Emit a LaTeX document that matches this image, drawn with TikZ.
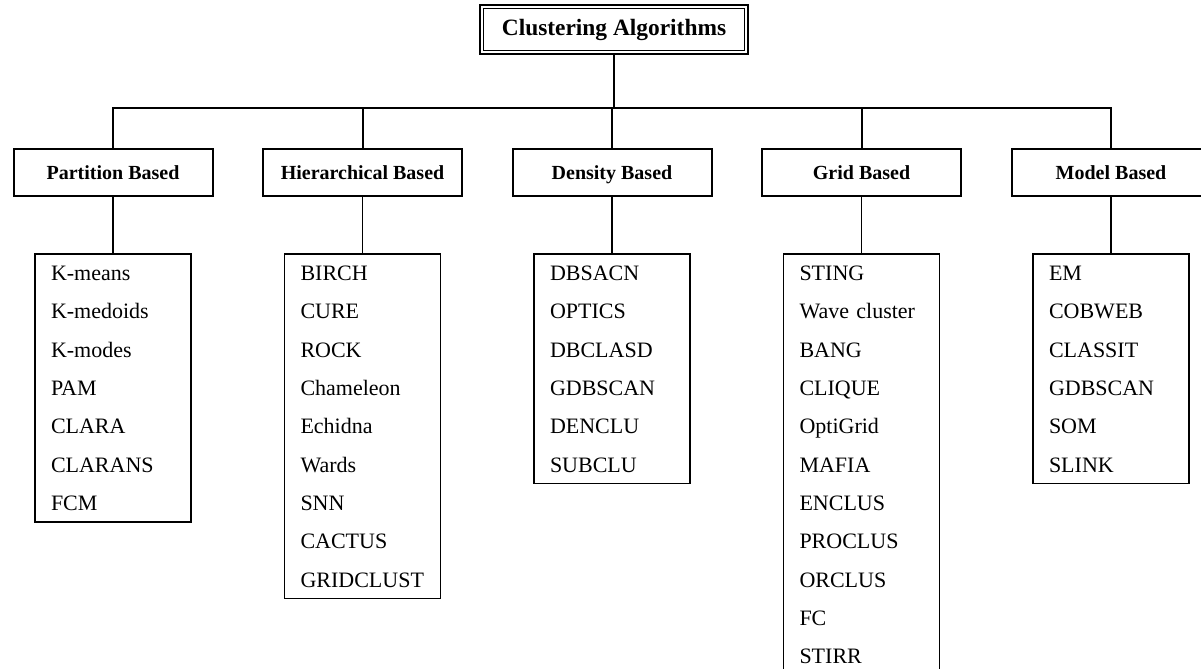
\documentclass[tikz,border=0pt]{standalone}
\usepackage{fontspec}
\setmainfont{Liberation Serif}
\usepackage{tikz}
\usetikzlibrary{positioning, calc}
\tikzstyle{Root} = [
draw, double, line width=0.8pt, double distance=1pt,
minimum width=132.4pt, minimum height=22.9pt,
font=\fontsize{11.7}{14}\selectfont\bfseries]
\tikzstyle{Category} = [
draw, line width=1pt,
minimum width=99.5pt, minimum height=23.5pt,
text height=7pt, text depth=0pt,
font=\fontsize{10}{12}\selectfont\bfseries]
\tikzstyle{List} = [
draw, line width=0.8pt, inner xsep=8pt, inner ysep=0pt,
text width=62pt, align=left,
font=\fontsize{11}{19.15}\selectfont,
execute at begin node=\strut, execute at end node=\strut]
\tikzstyle{Link} = [line width=1pt]
\tikzstyle{Stem} = [line width=0.8pt]

\begin{document}
\begin{tikzpicture}[node distance=24.25pt]
    \useasboundingbox (0,0) rectangle (600.5pt,-334.5pt);
    \node [Root] (0) at (307pt,-14.75pt) {Clustering Algorithms};

    % categories
    \node [Category, below =47.4pt of 0, xshift=-1pt] (3) {Density Based};
    \node [Category, left =of 3] (2) {Hierarchical Based};
    \node [Category, left =of 2] (1) {Partition Based};
    \node [Category, right =of 3] (4) {Grid Based};
    \node [Category, right =of 4] (5) {Model Based};

    % algorithm lists
    \node [List, below =28pt of 1] (6) {K-means\\ K-medoids\\ K-modes\\ PAM\\
        CLARA\\ CLARANS\\ FCM};
    \node [List, below =28pt of 2] (7) {BIRCH\\ CURE\\ ROCK\\ Chameleon\\ Echidna\\
        Wards\\ SNN\\ CACTUS\\ GRIDCLUST};
    \node [List, below =28pt of 3] (8) {DBSACN\\ OPTICS\\ DBCLASD\\ GDBSCAN\\
        DENCLU\\ SUBCLU};
    \node [List, below =28pt of 4] (9) {STING\\ Wave cluster\\ BANG\\ CLIQUE\\
        OptiGrid\\ MAFIA\\ ENCLUS\\ PROCLUS\\ ORCLUS\\ FC\\ STIRR};
    \node [List, below =28pt of 5] (10) {EM\\ COBWEB\\ CLASSIT\\ GDBSCAN\\
        SOM\\ SLINK};

    \coordinate [below =27.4pt of 0] (bus);
    \draw[Link] (0.south)--(bus);
    \foreach \n in {1,...,5}
        \draw[Link] (\n.north) |- (bus);
    \foreach \a/\b in {1/6, 2/7, 3/8, 4/9, 5/10}
        \draw[Stem] (\a)--(\b);
\end{tikzpicture}
\end{document}
